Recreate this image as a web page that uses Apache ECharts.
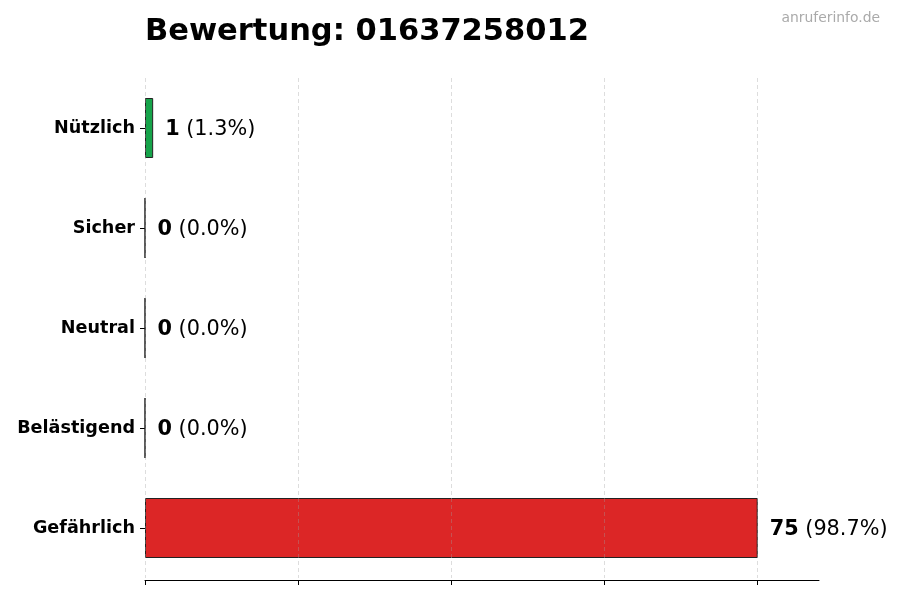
<!DOCTYPE html>
<html>
<head>
<meta charset="utf-8">
<script src="https://cdn.jsdelivr.net/npm/echarts@6/dist/echarts.min.js"></script>
<style>
  html, body { margin: 0; padding: 0; background: #fff; }
  #chart { width: 900px; height: 600px; }
</style>
</head>
<body>
<div id="chart"></div>
<script>
// Daten
var categories = ['Nützlich', 'Sicher', 'Neutral', 'Belästigend', 'Gefährlich'];
var counts = [1, 0, 0, 0, 75];
var percents = ['1.3', '0.0', '0.0', '0.0', '98.7'];
var barColors = ['#16a34a', '#16a34a', '#16a34a', '#16a34a', '#dc2626'];
var xTicks = [0, 18.75, 37.5, 56.25, 75];
var xMax = 82.5;

var myChart = echarts.init(document.getElementById('chart'));

var barData = [];
for (var i = 0; i < categories.length; i++) {
    barData.push({
        value: counts[i],
        itemStyle: { color: barColors[i] },
        label: { formatter: '{b|' + counts[i] + '}{n| (' + percents[i] + '%)}' }
    });
}

var gridLines = [];
for (var j = 0; j < xTicks.length; j++) {
    gridLines.push({ xAxis: xTicks[j] });
}

var option = {
    backgroundColor: '#fff',
    animation: false,
    textStyle: { fontFamily: 'DejaVu Sans' },
    title: [{
        text: 'Bewertung: 01637258012',
        left: 140,
        top: 12,
        textStyle: { fontSize: 30.5, fontWeight: 'bold', color: '#000', fontFamily: 'DejaVu Sans' }
    }, {
        text: 'anruferinfo.de',
        right: 15,
        top: 6,
        textStyle: { fontSize: 13.9, fontWeight: 'normal', color: '#aaaaaa', fontFamily: 'DejaVu Sans' }
    }],
    grid: { left: 145, right: 81, top: 78, bottom: 22, containLabel: false },
    xAxis: {
        type: 'value',
        min: 0,
        max: xMax,
        interval: 18.75,
        offset: 2,
        axisLine: { show: true, lineStyle: { color: '#000', width: 1 } },
        axisTick: { show: true, length: 5, lineStyle: { color: '#000' }, customValues: xTicks },
        axisLabel: { show: false },
        splitLine: { show: false }
    },
    yAxis: {
        type: 'category',
        inverse: true,
        data: categories,
        axisLine: { show: false },
        axisTick: { show: true, alignWithLabel: true, length: 5, lineStyle: { color: '#000' } },
        axisLabel: { color: '#000', fontSize: 17.6, fontWeight: 'bold', margin: 10, fontFamily: 'DejaVu Sans' }
    },
    series: [{
        type: 'bar',
        data: barData,
        barWidth: '60%',
        itemStyle: { borderColor: '#222', borderWidth: 1 },
        label: {
            show: true,
            position: 'right',
            distance: 12,
            offset: [0, 2],
            rich: {
                b: { fontSize: 20.8, fontWeight: 'bold', color: '#000', fontFamily: 'DejaVu Sans' },
                n: { fontSize: 20.8, color: '#000', fontFamily: 'DejaVu Sans' }
            }
        },
        markLine: {
            silent: true,
            symbol: ['none', 'none'],
            label: { show: false },
            lineStyle: { color: 'rgba(160,160,160,0.45)', type: [4, 3], width: 0.8 },
            data: gridLines
        }
    }]
};

myChart.setOption(option);
</script>
</body>
</html>
